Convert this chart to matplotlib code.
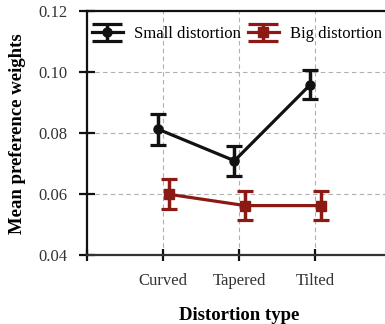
import matplotlib
matplotlib.use("Agg")
import matplotlib.pyplot as plt
import numpy as np
from matplotlib.legend_handler import HandlerErrorbar
from matplotlib.lines import Line2D

# Mean preference weights per distortion type, with error bar half-widths
CATEGORIES = ["Curved", "Tapered", "Tilted"]
SMALL_MEAN = [0.0813, 0.0710, 0.0960]
SMALL_ERR = [0.0050, 0.0049, 0.0049]
BIG_MEAN = [0.0600, 0.0563, 0.0563]
BIG_ERR = [0.0049, 0.0047, 0.0047]
Y_TICKS = [0.04, 0.06, 0.08, 0.10, 0.12]

INK = "#111111"
RED = "#8b1a14"
GRID = "#b0b0b0"

plt.rcParams["font.family"] = ["Liberation Serif", "DejaVu Serif"]


class WideCapHandler(HandlerErrorbar):
    """Errorbar legend entry whose caps span the whole handle."""

    def create_artists(self, legend, orig_handle, xdescent, ydescent,
                       width, height, fontsize, trans):
        artists = super().create_artists(legend, orig_handle, xdescent, ydescent,
                                         width, height, fontsize, trans)
        for a in artists:
            if isinstance(a, Line2D) and a.get_marker() == "_":
                a.set_markersize(width)
        return artists


fig = plt.figure(figsize=(3.85, 3.24), dpi=100)
ax = fig.add_axes([87 / 385, 1 - 255.3 / 324, 304 / 385, 244 / 324])

x = np.arange(len(CATEGORIES))
ax.errorbar(x - 0.06, SMALL_MEAN, yerr=SMALL_ERR, color=INK, lw=2.3, marker="o",
            ms=6.5, capsize=5.5, capthick=2.3, elinewidth=2.5, label="Small distortion",
            zorder=4)
ax.errorbar(x + 0.08, BIG_MEAN, yerr=BIG_ERR, color=RED, lw=2.3, marker="s",
            ms=7.5, capsize=5.5, capthick=2.3, elinewidth=2.5, label="Big distortion",
            zorder=3)

ax.set_xlim(-1, 3)
ax.set_ylim(0.04, 0.12)
ax.set_xticks([-1, 0, 1, 2, 3])
ax.set_xticklabels([""] + CATEGORIES + [""])
ax.set_yticks(Y_TICKS)
ax.set_yticklabels([f"{v:.2f}" for v in Y_TICKS])

ax.grid(True, color=GRID, linestyle=(0, (4, 3)), linewidth=0.8)
ax.set_axisbelow(True)

for side in ("left", "top"):
    ax.spines[side].set_linewidth(1.6)
    ax.spines[side].set_color(INK)
ax.spines["bottom"].set_linewidth(1.6)
ax.spines["bottom"].set_color("#333333")
ax.spines["right"].set_visible(False)

ax.tick_params(axis="y", direction="inout", length=12, width=1.6, colors=INK,
               labelcolor="#333333", labelsize=12, pad=8)
ax.tick_params(axis="x", direction="inout", length=8, width=1.6, colors=INK,
               labelcolor="#333333", labelsize=12, pad=9)

ax.set_xlabel("Distortion type", fontsize=13.5, fontweight="bold", labelpad=13)
ax.set_ylabel("Mean preference weights", fontsize=13.5, fontweight="bold", labelpad=9)

ax.legend(loc="upper left", ncol=2, frameon=False, fontsize=12, handlelength=1.85,
          columnspacing=0.4, handletextpad=0.7, borderaxespad=0.0,
          bbox_to_anchor=(-0.006, 0.966),
          handler_map={type(ax.containers[0]): WideCapHandler()})

fig.savefig("out.png", dpi=100)
